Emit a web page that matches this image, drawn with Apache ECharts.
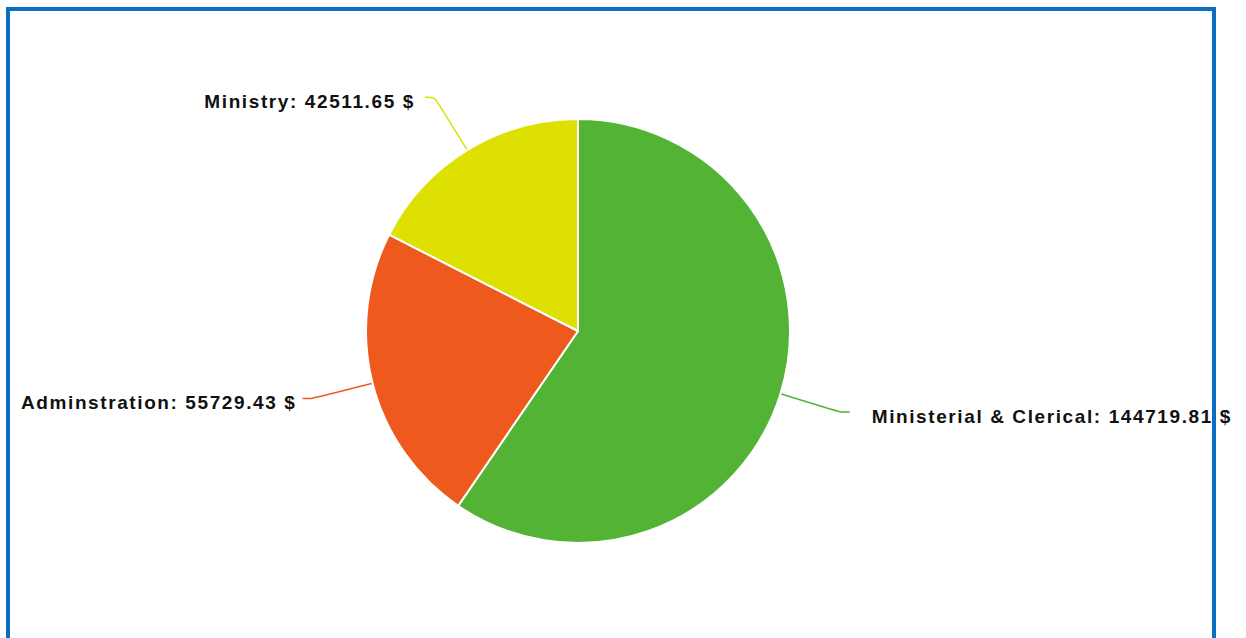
<!DOCTYPE html>
<html>
<head>
<meta charset="utf-8">
<script src="https://cdn.jsdelivr.net/npm/echarts@6/dist/echarts.min.js"></script>
<style>
  html, body { margin: 0; padding: 0; background: #fff; overflow: hidden; }
  #chart { position: absolute; left: 0; top: 0; width: 1246px; height: 638px; }
  #chart text { letter-spacing: 1.6px; }
  #frame { position: absolute; left: 6px; top: 7px; width: 1202px; height: 700px;
           border: 4px solid #0a6fc2; pointer-events: none; }
</style>
</head>
<body>
<div id="chart"></div>
<div id="frame"></div>
<script>
const categories = ["Ministerial & Clerical", "Adminstration", "Ministry"];
const values = [144719.81, 55729.43, 42511.65];
const colors = ["#52b335", "#ee591d", "#dde000"];
const labelPads = [[0, 0, 0, 16], [0, 0, 0, 0], [0, 4, 0, 0]];

const chart = echarts.init(document.getElementById('chart'), null, { renderer: 'svg' });
chart.setOption({
  animation: false,
  series: [{
    type: 'pie',
    center: [578, 331],
    radius: 212,
    startAngle: 90,
    clockwise: true,
    data: categories.map((c, i) => ({
      name: c, value: values[i],
      itemStyle: { color: colors[i] },
      label: { padding: labelPads[i] }
    })),
    itemStyle: { borderColor: '#fff', borderWidth: 2 },
    label: {
      show: true,
      formatter: p => p.name + ': ' + p.value.toFixed(2) + ' $',
      color: '#111',
      fontFamily: 'Liberation Sans, Arial, sans-serif',
      fontWeight: 'bold',
      fontSize: 19,
      offset: [0, 4],
      distanceToLabelLine: 6
    },
    labelLine: {
      show: true,
      length: 62,
      length2: 10,
      smooth: 0.3,
      lineStyle: { width: 1.5 }
    }
  }]
});
</script>
</body>
</html>
